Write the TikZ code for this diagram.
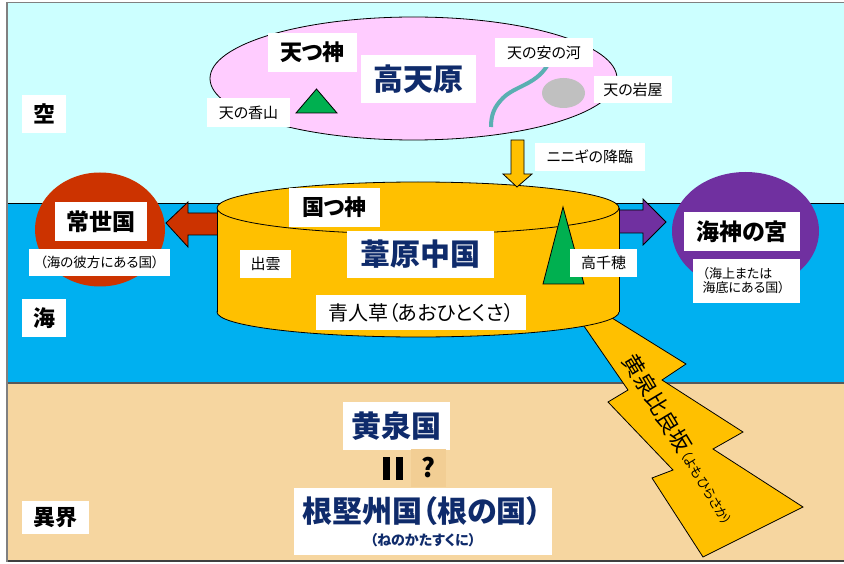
\documentclass[tikz,border=0pt]{standalone}
\usepackage{fontspec}
\setmainfont{Noto Sans CJK JP}[RawFeature=+palt]
\definecolor{skyc}{HTML}{CCFFFF}
\definecolor{seac}{HTML}{00B0F0}
\definecolor{groundc}{HTML}{F6D6A0}
\definecolor{qboxc}{HTML}{F2CE94}
\definecolor{pinkc}{HTML}{FFCCFF}
\definecolor{goldc}{HTML}{FFC000}
\definecolor{greenc}{HTML}{00B050}
\definecolor{redc}{HTML}{CC3300}
\definecolor{purplec}{HTML}{7030A0}
\definecolor{navyc}{HTML}{0F2B6B}
\definecolor{riverc}{HTML}{5AAFB2}
\definecolor{rockc}{HTML}{C0C0C0}
\newcommand\setfs[1]{\fontsize{#1}{#1}\selectfont}
\tikzset{
  lbl/.style={fill=white, inner sep=0pt, text=black},
  bigl/.style={lbl, font=\bfseries\setfs{30}, text=navyc},
  midl/.style={lbl, font=\bfseries\setfs{22}},
  smalll/.style={lbl, font=\setfs{15}},
  outl/.style={draw=black, line width=0.8pt},
}
\begin{document}
\begin{tikzpicture}[x=1pt,y=-1pt]
\useasboundingbox (0,0) rectangle (844,564);
% regions
\fill[skyc] (7,2.5) rectangle (844,203);
\fill[seac] (7,203) rectangle (844,382.5);
\fill[groundc] (7,382.5) rectangle (844,561);
\draw[black, line width=0.8pt] (7,203) -- (844,203);
\draw[black!65, line width=2pt] (7,382.5) -- (844,382.5);
\draw[black!75, line width=1.5pt] (7,561) -- (844,561);
\draw[black!50, line width=1.5pt] (7,2.5) -- (844,2.5);
\draw[black!50, line width=2pt] (7,1.8) -- (7,561.7);

% Takamagahara
\draw[outl, fill=pinkc] (413.5,78.5) ellipse [x radius=203.5, y radius=61.5];
\draw[outl, fill=greenc] (296,113) -- (316.5,89) -- (337,113) -- cycle;
\draw[riverc, line width=4pt] (547,66) .. controls (535,85) and (515,86) .. (503,98) .. controls (494,107) and (491,115) .. (491,127);
\fill[rockc] (563.5,93) ellipse [x radius=21.5, y radius=15];

% left and right arrows (behind the cylinder)
\draw[outl, fill=redc] (166,223) -- (188,202) -- (188,213) -- (240,213) -- (240,235) -- (188,235) -- (188,247) -- cycle;
\draw[outl, fill=purplec] (600,210) -- (643,210) -- (643,199) -- (666,222) -- (643,245) -- (643,233) -- (600,233) -- cycle;

% circles
\fill[redc] (100,229.5) ellipse [x radius=65, y radius=57];
\fill[purplec] (745.5,231) ellipse [x radius=73.5, y radius=59];

% slope
\draw[outl, fill=goldc] (566,300) -- (628,390) -- (608,402) -- (673,470) -- (652,478) -- (703,557) -- (803,507) -- (713,449) -- (743,432) -- (662,380) -- (686,364) -- (583,300) -- cycle;

% cylinder
\draw[outl, fill=goldc] (418,312) ellipse [x radius=201, y radius=25];
\fill[goldc] (217,208) rectangle (619,312);
\draw[outl] (217,208) -- (217,312);
\draw[outl] (619,208) -- (619,312);
\draw[outl, fill=goldc] (418,208) ellipse [x radius=201, y radius=26];
\draw[outl, fill=greenc] (543,284) -- (563,207) -- (584,284) -- cycle;

% descent arrow
\draw[outl, fill=goldc] (511,140) -- (524,140) -- (524,174) -- (532,174) -- (517,187) -- (503,174) -- (511,174) -- cycle;

% side labels
\node[midl, minimum width=44, minimum height=38] (sora) at (44,114) {空};
\node[midl, minimum width=44, minimum height=38] (umi) at (44,318) {海};
\node[midl, minimum width=67, minimum height=33] (ikai) at (55.5,517.5) {異界};

% heaven labels
\node[midl, minimum width=89, minimum height=39] (amatsu) at (312.5,52.5) {天つ神};
\node[bigl, minimum width=115, minimum height=48] (takama) at (418.5,79) {高天原};
\node[smalll, minimum width=83, minimum height=29] (kagu) at (248.5,112.5) {天の香山};
\node[smalll, minimum width=98, minimum height=29] (yasu) at (544,52.5) {天の安の河};
\node[smalll, minimum width=78, minimum height=27] (iwaya) at (633,89.5) {天の岩屋};
\node[smalll, minimum width=110, minimum height=28] (ninigi) at (590,157) {ニニギの降臨};

% cylinder labels
\node[midl, minimum width=91, minimum height=39] (kunitsu) at (334.5,207.5) {国つ神};
\node[bigl, minimum width=147, minimum height=47] (ashihara) at (420.5,254.5) {葦原中国};
\node[smalll, minimum width=51, minimum height=28] (izumo) at (265.5,264) {出雲};
\node[lbl, font=\setfs{20}, minimum width=210, minimum height=35] (aohito) at (421,312.5) {青人草（あおひとくさ）};
\node[smalll, minimum width=67, minimum height=28] (takachiho) at (603.5,263) {高千穂};

% side lands
\node[midl, font=\bfseries\setfs{23}, minimum width=92, minimum height=39] (tokoyo) at (101,221.5) {常世国};
\node[lbl, font=\setfs{13.5}, minimum width=141, minimum height=27] (tokoyosub) at (99.5,262.5) {（海の彼方にある国）};
\node[midl, font=\bfseries\setfs{23}, minimum width=116, minimum height=39] (watatsumi) at (742,231.5) {海神の宮};
\node[lbl, font=\setfs{13}, minimum width=107, minimum height=44, align=left, text width=88] (watasub) at (746.5,281) {（海上または\\[1pt]海底にある国）};

% underworld
\node[bigl, minimum width=107, minimum height=48] (yomi) at (396.5,426) {黄泉国};
\fill (383,457) rectangle (390,480);
\fill (396,457) rectangle (403,480);
\node[fill=qboxc, inner sep=0pt, minimum width=35, minimum height=38, font=\bfseries\setfs{26}] (q) at (428.5,468) {?};
\node[fill=white, inner sep=0pt, minimum width=258, minimum height=67] (nebox) at (423,521.5) {};
\node[inner sep=0pt, text=navyc, font=\bfseries\setfs{30}] (ne) at (422,511.5) {根堅州国（根の国）};
\node[inner sep=0pt, text=navyc, font=\bfseries\setfs{14}] (nesub) at (423,540) {（ねのかたすくに）};

% slope text
\node[rotate=-59, anchor=west, inner sep=0pt, font=\setfs{22}] (slopetxt) at (629,356) {黄泉比良坂\hspace{1pt}\raisebox{2pt}{\setfs{13}（よもひらさか）}};
\end{tikzpicture}
\end{document}
